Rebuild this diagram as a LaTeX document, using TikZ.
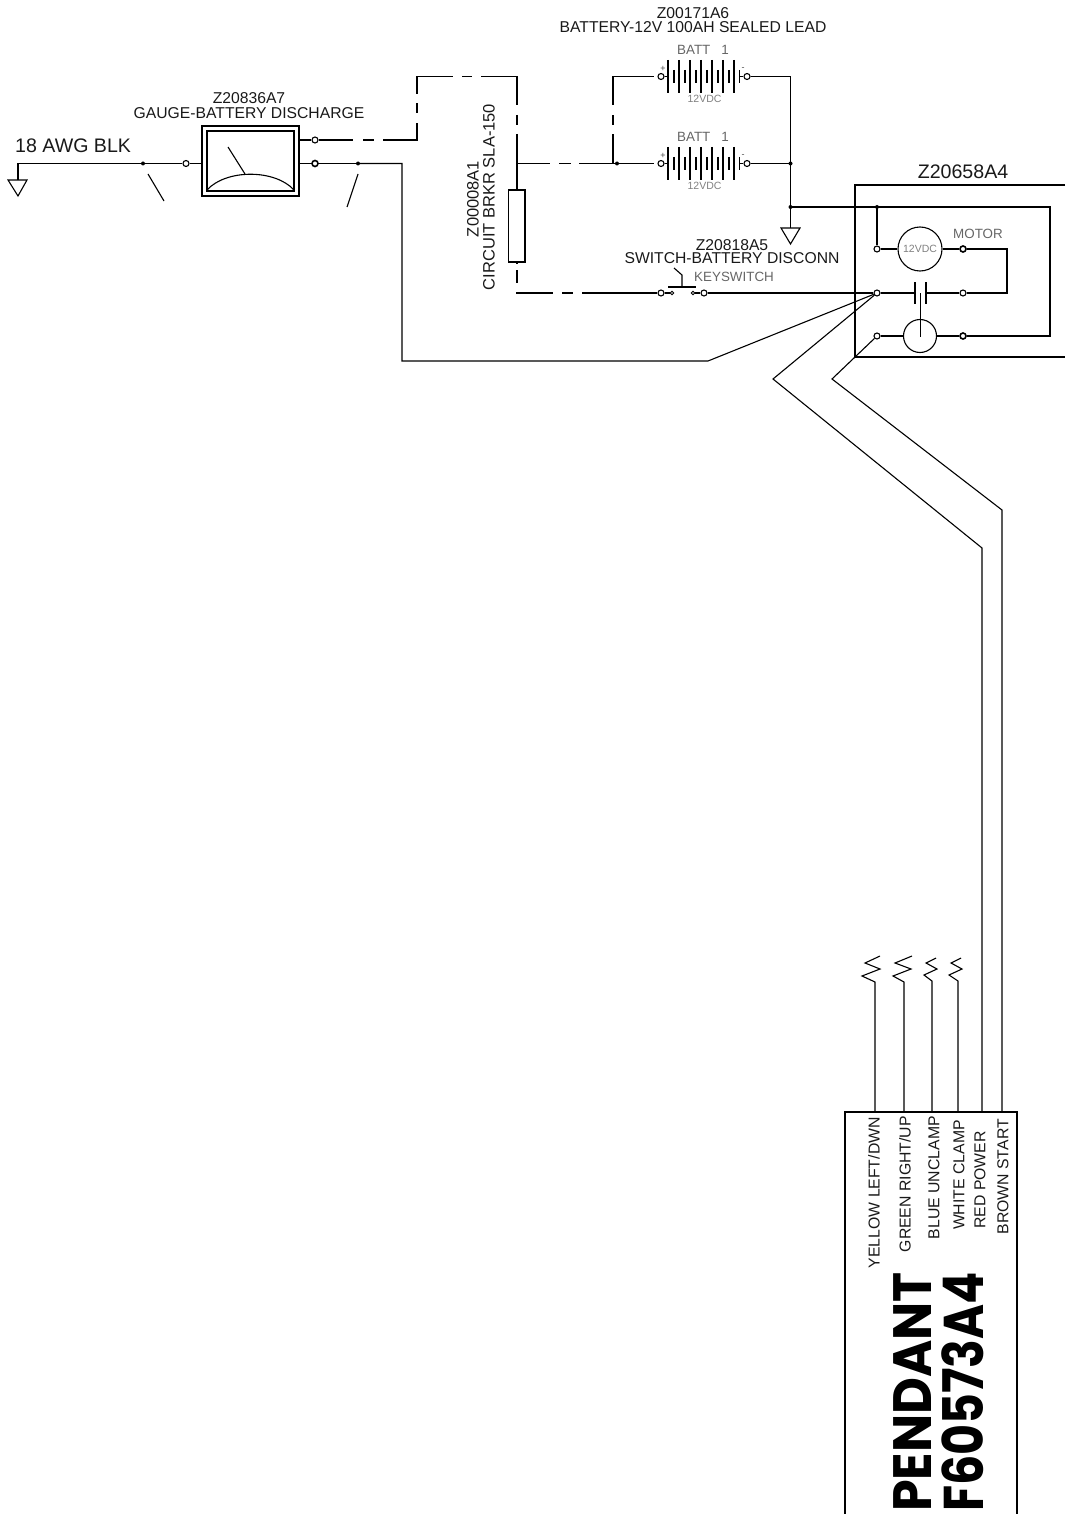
\documentclass[tikz,border=0pt]{standalone}
\usepackage{fontspec}
\setmainfont{Liberation Sans}
\newfontfamily\heavya[FakeStretch=0.94]{Poppins Bold}
\newfontfamily\heavyb[FakeStretch=0.85]{Poppins Bold}
\begin{document}
\begin{tikzpicture}[x=1pt,y=-1pt,
  wire/.style={line width=1.1pt,black},
  term/.style={circle,draw=black,fill=white,line width=1.1pt,inner sep=0pt,minimum size=6pt},
  termb/.style={circle,draw=black,fill=white,line width=1.6pt,inner sep=0pt,minimum size=6pt},
  dotn/.style={circle,fill=black,inner sep=0pt,minimum size=4pt},
  lab/.style={inner sep=0pt,font=\fontsize{15.7}{16}\selectfont,text=black!90},
  blab/.style={inner sep=0pt,font=\fontsize{19.6}{20}\selectfont,text=black!90},
  clab/.style={inner sep=0pt,rotate=90,font=\fontsize{16.5}{17}\selectfont,text=black!90},
  glab/.style={inner sep=0pt,font=\fontsize{13.4}{14}\selectfont,text=black!60},
  slab/.style={inner sep=0pt,font=\fontsize{10.5}{11}\selectfont,text=black!50},
  rlab/.style={inner sep=0pt,rotate=90,anchor=east,font=\fontsize{15.8}{16}\selectfont,text=black!90},
  big/.style={rotate=90,anchor=base west,inner sep=0pt}]
\useasboundingbox (0,0) rectangle (1065,1514);
% labels
\node[lab] (t1) at (249,98) {Z20836A7};
\node[lab] (t2) at (249,113) {GAUGE-BATTERY DISCHARGE};
\node[blab,anchor=west] (awg) at (15,146) {18 AWG BLK};
\node[lab] (t3) at (693,13) {Z00171A6};
\node[lab] (t4) at (693,27) {BATTERY-12V 100AH SEALED LEAD};
\node[clab] (t5) at (473,199) {Z00008A1};
\node[clab] (t6) at (489,197) {CIRCUIT BRKR SLA-150};
\node[lab] (t7) at (732,245) {Z20818A5};
\node[lab] (t8) at (732,258) {SWITCH-BATTERY DISCONN};
\node[glab,anchor=west] (t9) at (694,277) {KEYSWITCH};
\node[glab,anchor=west] (t10) at (953,234) {MOTOR};
\node[blab] (t11) at (963,172) {Z20658A4};
% left ground
\coordinate (gl) at (18,163.5);
\coordinate (gtop) at (18,180);
\node[dotn] (d1) at (143,163.5) {};
\node[term] (g1) at (186,163.5) {};
\node[dotn] (d2) at (358,163.5) {};
\node[termb] (g2) at (315,163.5) {};
\node[term] (g3) at (315,140) {};
\draw[wire] (d1.center) -- (gl) -- (gtop);
\draw[wire] (8,180) -- (27,180) -- (18,196) -- cycle;
\draw[wire] (d1.center) -- (g1);
% gauge
\draw[wire] (202,126) rectangle (299,196);
\draw[wire] (207,131) rectangle (294,191);
\draw[wire] (207,190) .. controls (226,169) and (275,169) .. (294,190);
\draw[wire] (228,147) -- (245,174);
\draw[wire] (g1) -- (202,163.5);
\draw[wire] (299,163.5) -- (g2);
\draw[wire] (299,140) -- (g3);
\draw[wire] (g2) -- (d2.center);
\draw[wire] (148,174) -- (164,201);
\draw[wire] (358,174) -- (347,207);
% wire to motor contact
\coordinate (wa) at (402,163.5);
\coordinate (wb) at (402,361);
\coordinate (wc) at (708,361);
\node[term] (m1) at (877,293) {};
\draw[wire] (d2.center) -- (wa) -- (wb) -- (wc) -- (m1);
% dashed run from gauge to breaker
\coordinate (da) at (417,140);
\coordinate (db) at (417,76.5);
\coordinate (dc) at (517,76.5);
\draw[wire] (g3) -- (353,140);
\draw[wire] (363,140) -- (374,140);
\draw[wire] (383,140) -- (da) -- (417,123);
\draw[wire] (417,113) -- (417,103);
\draw[wire] (417,94) -- (db) -- (453,76.5);
\draw[wire] (462,76.5) -- (472,76.5);
\draw[wire] (481,76.5) -- (dc) -- (517,105);
\draw[wire] (517,115) -- (517,125);
\draw[wire] (517,134) -- (517,190);
% breaker
\draw[wire] (508.5,190) rectangle (525,262);
\coordinate (bt) at (517,163.5);
\node[dotn] (d3) at (617,163.5) {};
\draw[wire] (bt) -- (550,163.5);
\draw[wire] (559,163.5) -- (571,163.5);
\draw[wire] (579,163.5) -- (d3.center);
\draw[wire] (613,163.5) -- (613,134);
\draw[wire] (613,125) -- (613,115);
\draw[wire] (613,105) -- (613,76.5) -- (654,76.5);
\draw[wire] (d3.center) -- (654,163.5);
\draw[wire] (517,262) -- (517,264);
\draw[wire] (517,270) -- (517,283);
\draw[wire] (517,292) -- (517,293) -- (553,293);
\draw[wire] (562,293) -- (573,293);
\draw[wire] (582,293) -- (657,293);
% batteries
\foreach \yy/\nm in {76.5/a,163.5/b}{
  \node[term] (bp\nm) at (661,\yy) {};
  \node[term] (bm\nm) at (747,\yy) {};
  \draw[wire] (bp\nm) -- (668,\yy);
  \foreach \xx in {668,679,690,701,712,723,734}{\draw[wire] (\xx,\yy-16.5) -- (\xx,\yy+16.5);}
  \foreach \xx in {674,685,696,707,718,729,739.5}{\draw[wire] (\xx,\yy-6.5) -- (\xx,\yy+6.5);}
  \draw[wire] (739.5,\yy) -- (bm\nm);
  \node[inner sep=0pt,font=\fontsize{9}{9}\selectfont,text=black!70] (pl\nm) at (663,\yy-7.5) {+};
  \node[inner sep=0pt,font=\fontsize{9}{9}\selectfont,text=black!70] (ml\nm) at (743,\yy-7) {-};
  \node[glab] (bl\nm) at (703,\yy-26.5) {BATT\hspace{11pt}1};
  \node[slab] (vl\nm) at (704.5,\yy+22.5) {12VDC};
}
\coordinate (rt) at (790.5,76.5);
\node[dotn] (d4) at (790.5,163.5) {};
\node[dotn] (d5) at (790.5,207) {};
\draw[wire] (bma) -- (rt) -- (d4.center);
\draw[wire] (bmb) -- (d4.center) -- (d5.center) -- (790.5,228);
\draw[wire] (781,228) -- (800,228) -- (790.5,244) -- cycle;
% switch
\node[term] (s1) at (661,293) {};
\node[term] (s2) at (704,293) {};
\node[circle,fill=white,draw=black,line width=0.9pt,inner sep=0pt,minimum size=3.4pt] (s3) at (672,293) {};
\node[circle,fill=white,draw=black,line width=0.9pt,inner sep=0pt,minimum size=3.4pt] (s4) at (693,293) {};
\draw[wire] (s1) -- (s3);
\draw[wire] (s4) -- (s2);
\draw[wire] (668,287) -- (696,287);
\draw[wire] (682,287) -- (682,275) -- (674,268);
\draw[wire] (s2) -- (m1);
% motor box
\draw[wire] (1065,185) -- (855,185) -- (855,357) -- (1065,357);
\node[dotn] (d6) at (877,207) {};
\node[term] (m2) at (877,249) {};
\node[termb] (m3) at (963,249) {};
\node[term] (m4) at (963,293) {};
\node[term] (m5) at (877,336) {};
\node[termb] (m6) at (963,336) {};
\draw[wire] (d5.center) -- (1050,207) -- (1050,336) -- (m6);
\draw[wire] (d6.center) -- (m2);
\node[circle,draw=black,line width=1.1pt,minimum size=44pt,inner sep=0pt,font=\fontsize{10.5}{11}\selectfont,text=black!50] (mot) at (920,249) {12VDC};
\draw[wire] (m2) -- (mot);
\draw[wire] (mot) -- (m3);
\draw[wire] (m3) -- (1007,249) -- (1007,293) -- (m4);
\draw[wire] (m1) -- (915,293);
\draw[wire] (926,293) -- (m4);
\draw[wire] (915,282) -- (915,304);
\draw[wire] (926,282) -- (926,304);
\node[circle,draw=black,line width=1.1pt,minimum size=33pt,inner sep=0pt] (sol) at (920,336) {};
\draw[wire] (m5) -- (sol);
\draw[wire] (sol) -- (m6);
\draw[wire] (920.5,293) -- (920.5,337);
% pendant wires
\coordinate (p1) at (773,379);
\coordinate (p2) at (982,548);
\coordinate (p3) at (982,1112);
\coordinate (p4) at (832,379);
\coordinate (p5) at (1002,510);
\coordinate (p6) at (1002,1112);
\draw[wire] (m1) -- (p1) -- (p2) -- (p3);
\draw[wire] (m5) -- (p4) -- (p5) -- (p6);
% pendant stubs
\draw[wire] (875,1112) -- (875,982) -- (862,976) -- (880,969) -- (865,963) -- (880,956);
\draw[wire] (904,1112) -- (904,982) -- (893,976) -- (911,969) -- (895,963) -- (912,956);
\draw[wire] (932,1112) -- (932,981) -- (924,975) -- (937,969) -- (926,963) -- (936,958);
\draw[wire] (958,1112) -- (958,981) -- (949,975) -- (962,969) -- (951,963) -- (961,958);
% pendant box
\draw[wire] (845,1514) -- (845,1112) -- (1017,1112) -- (1017,1514);
\node[rlab] (r1) at (874,1117) {YELLOW LEFT/DWN};
\node[rlab] (r2) at (905,1116) {GREEN RIGHT/UP};
\node[rlab] (r3) at (934,1116) {BLUE UNCLAMP};
\node[rlab] (r4) at (959,1120) {WHITE CLAMP};
\node[rlab] (r5) at (980,1131) {RED POWER};
\node[rlab] (r6) at (1003,1119) {BROWN START};
\node[big,font=\heavya\fontsize{54}{54}\selectfont] (pn) at (931,1512) {PENDANT};
\node[big,font=\heavyb\fontsize{56}{56}\selectfont] (fn) at (983,1512) {F60573A4};
\end{tikzpicture}
\end{document}
